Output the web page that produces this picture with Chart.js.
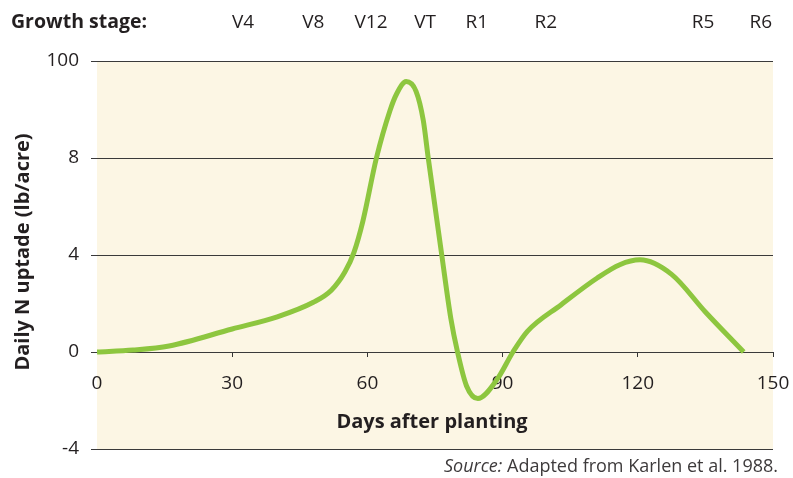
<!DOCTYPE html>
<html>
<head>
<meta charset="utf-8">
<script src="https://cdn.jsdelivr.net/npm/chart.js@4.4.1/dist/chart.umd.min.js"></script>
<style>
    html, body { margin: 0; padding: 0; background: #ffffff; }
    #chart { display: block; }
</style>
</head>
<body>
<canvas id="chart" width="793" height="478"></canvas>
<script>
// Data (days after planting vs daily N uptake)
const days = [0, 8, 16, 30, 40, 48, 52, 55, 57, 59, 62, 65, 66.5, 68.6, 70.8, 72.4, 73.5, 76.5, 78.5, 80, 82, 84.5, 88.7, 92.3, 95.5, 103, 111, 116, 120.5, 127.5, 135, 143.5];
const uptake = [0, 0.08, 0.25, 0.95, 1.45, 2.05, 2.55, 3.3, 4.1, 5.4, 8.0, 9.95, 10.65, 11.15, 10.75, 9.55, 8.0, 4.0, 1.4, 0, -1.4, -1.92, -1.15, 0, 0.85, 1.95, 3.05, 3.6, 3.8, 3.2, 1.65, 0];

// Axis ticks
const xTicks = [0, 30, 60, 90, 120, 150];
const yTickValues = [-4, 0, 4, 8, 12];
const yTickLabels = ['-4', '0', '4', '8', '100'];

// Growth stages along the top
const stageLabels = ['V4', 'V8', 'V12', 'VT', 'R1', 'R2', 'R5', 'R6'];
const stageDays = [32.4, 48, 60.8, 72.8, 84.3, 99.6, 134.5, 147.3];

const TEXT = '#231f20';
const FONT = '"Open Sans", "DejaVu Sans", sans-serif';

// Plot background + extra text (stage row, axis titles, source note)
const decorations = {
    id: 'decorations',
    beforeDraw(chart) {
        const { ctx, chartArea } = chart;
        ctx.save();
        ctx.fillStyle = '#fcf6e4';
        ctx.fillRect(chartArea.left, chartArea.top, chartArea.right - chartArea.left, chartArea.bottom - chartArea.top);
        ctx.restore();
    },
    afterDraw(chart) {
        const { ctx, chartArea } = chart;
        const x = chart.scales.x;
        ctx.save();
        ctx.fillStyle = TEXT;

        // growth stage row
        ctx.font = 'bold 19.5px ' + FONT;
        ctx.textAlign = 'left';
        ctx.textBaseline = 'alphabetic';
        ctx.fillText('Growth stage:', 11, 28);
        ctx.font = '19px ' + FONT;
        ctx.textAlign = 'center';
        stageLabels.forEach((lbl, i) => {
            ctx.fillText(lbl, x.getPixelForValue(stageDays[i]), 28);
        });

        // x title
        ctx.font = 'bold 20px ' + FONT;
        ctx.fillText('Days after planting', 432, 428);

        // y title
        ctx.save();
        ctx.translate(23, (chartArea.top + chartArea.bottom) / 2 - 3);
        ctx.rotate(-Math.PI / 2);
        ctx.textBaseline = 'middle';
        ctx.fillText('Daily N uptade (lb/acre)', 0, 0);
        ctx.restore();

        // source note
        ctx.fillStyle = '#3d3a3b';
        ctx.textAlign = 'left';
        ctx.font = '18px ' + FONT;
        const rest = ' Adapted from Karlen et al. 1988.';
        const restW = ctx.measureText(rest).width;
        ctx.font = 'italic 18px ' + FONT;
        const srcW = ctx.measureText('Source:').width;
        const startX = 778 - restW - srcW;
        ctx.fillText('Source:', startX, 472);
        ctx.font = '18px ' + FONT;
        ctx.fillText(rest, startX + srcW, 472);
        ctx.restore();
    }
};

new Chart(document.getElementById('chart'), {
    type: 'line',
    data: {
        datasets: [{
            data: days.map((d, i) => ({ x: d, y: uptake[i] })),
            borderColor: '#8dc63f',
            borderWidth: 5,
            pointRadius: 0,
            cubicInterpolationMode: 'monotone',
            fill: false
        }]
    },
    options: {
        responsive: false,
        animation: false,
        layout: { padding: { top: 61, right: 20, bottom: 29, left: 0 } },
        plugins: {
            legend: { display: false },
            tooltip: { enabled: false }
        },
        scales: {
            x: {
                type: 'linear',
                position: { y: 0 },
                min: 0,
                max: 150,
                afterBuildTicks: scale => { scale.ticks = xTicks.map(v => ({ value: v })); },
                afterFit: scale => { scale.paddingLeft = 0; scale.paddingRight = 0; },
                ticks: {
                    autoSkip: false,
                    maxRotation: 0,
                    padding: 15,
                    color: TEXT,
                    font: { family: FONT, size: 19 }
                },
                grid: {
                    drawOnChartArea: false,
                    drawTicks: true,
                    tickLength: 5,
                    color: ctx => (ctx.tick && ctx.tick.value === 0) ? 'rgba(0,0,0,0)' : '#333'
                },
                border: { display: false }
            },
            y: {
                min: -4,
                max: 12,
                afterBuildTicks: scale => { scale.ticks = yTickValues.map(v => ({ value: v })); },
                afterFit: scale => { scale.width = 97; },
                ticks: {
                    padding: 12,
                    color: TEXT,
                    font: { family: FONT, size: 19 },
                    callback: value => yTickLabels[yTickValues.indexOf(value)]
                },
                grid: {
                    color: '#3a3a3a',
                    lineWidth: 1,
                    tickLength: 6
                },
                border: { display: false }
            }
        }
    },
    plugins: [decorations]
});
</script>
</body>
</html>
